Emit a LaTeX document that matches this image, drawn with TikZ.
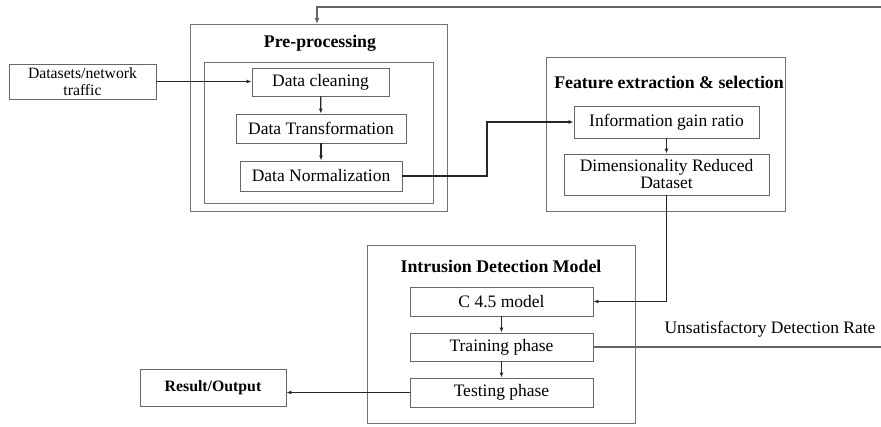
\documentclass[tikz,border=0pt]{standalone}
\usepackage{fontspec}
\setmainfont{Liberation Serif}
\usetikzlibrary{arrows.meta}

\begin{document}
\begin{tikzpicture}[x=1pt,y=-1pt,
  stage/.style={draw=black!60, line width=0.9pt, inner sep=0pt, align=center,
    font=\fontsize{17.5}{17}\selectfont},
  group/.style={draw=black!55, line width=0.9pt},
  title/.style={font=\fontsize{17.8}{18}\selectfont\bfseries},
  conn/.style={draw=black!85, line width=1.2pt, -{Latex[length=5pt,width=4pt]}},
  fb/.style={draw=black!60, line width=1.8pt, -{Latex[length=6pt,width=5pt]}}]

\useasboundingbox (0,0) rectangle (881,426);
\clip (0,0) rectangle (881,426);

% Group frames
\draw[group] (190,24) rectangle (447,211);
\draw[group] (204,62) rectangle (433,203);
\draw[group] (546,57) rectangle (785,211);
\draw[group] (367,245) rectangle (635,423);
\coordinate (pretop) at (317,24);

% Titles
\node[title] (pretitle) at (320,43) {Pre-processing};
\node[title] (feattitle) at (669,82) {Feature extraction \& selection};
\node[title] (idmtitle) at (501,266) {Intrusion Detection Model};

% Stages
\node[stage, minimum width=147, minimum height=35, font=\fontsize{15.7}{17}\selectfont] (data) at (82.5,81.5) {Datasets/network\\traffic};
\node[stage, minimum width=137, minimum height=28] (clean) at (320.5,82) {Data cleaning};
\node[stage, minimum width=170, minimum height=29] (trans) at (321,128.5) {Data Transformation};
\node[stage, minimum width=162, minimum height=30] (norm) at (321,176) {Data Normalization};
\node[stage, minimum width=185, minimum height=32] (info) at (666.5,122) {Information gain ratio};
\node[stage, minimum width=205, minimum height=41] (dim) at (666.5,174.5) {Dimensionality Reduced\\Dataset};
\node[stage, minimum width=183, minimum height=29] (c45) at (501.5,301.5) {C 4.5 model};
\node[stage, minimum width=183, minimum height=28] (train) at (501.5,347) {Training phase};
\node[stage, minimum width=183, minimum height=29] (test) at (501.5,392.5) {Testing phase};
\node[stage, minimum width=146, minimum height=37, font=\fontsize{15.8}{17}\selectfont\bfseries] (result) at (213,387.5) {Result/Output};

% Connectors
\draw[conn] (data.east) -- (data.east -| clean.west);
\draw[conn] (clean) -- (trans);
\draw[conn] (trans) -- (norm);
\draw[conn] (norm.east) -- (487,176) |- (info.west);
\draw[conn] (info) -- (dim);
\draw[conn] (dim.south) |- (c45.east);
\draw[conn] (c45) -- (train);
\draw[conn] (train) -- (test);
\draw[conn] (test.west) -- (test.west -| result.east);

% Feedback loop
\draw[fb] (train.east) -- (885,347) -- (885,7) -| (pretop);
\node[font=\fontsize{17.5}{18}\selectfont] (fblabel) at (770,329) {Unsatisfactory Detection Rate};

\end{tikzpicture}
\end{document}
